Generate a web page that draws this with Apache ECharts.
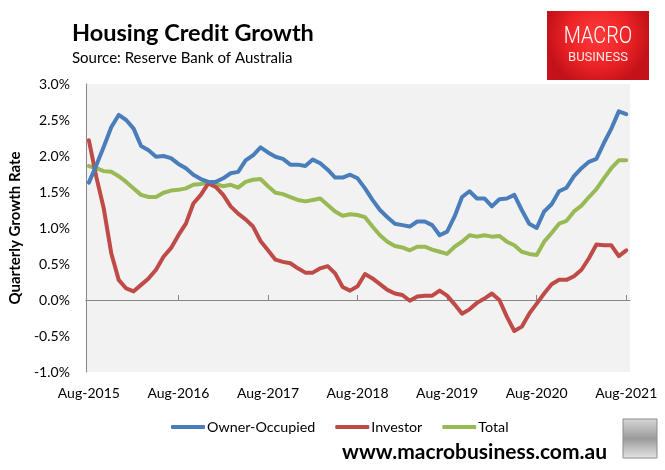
<!DOCTYPE html>
<html>
<head>
<meta charset="utf-8">
<script src="https://cdn.jsdelivr.net/npm/echarts@6/dist/echarts.min.js"></script>
<style>
html,body{margin:0;padding:0;background:#fff;}
#chart{width:665px;height:470px;}
</style>
</head>
<body>
<div id="chart"></div>
<script>
// Monthly observations Aug-2015 .. Aug-2021 (index 0..72)
var tickLabels = ['Aug-2015','Aug-2016','Aug-2017','Aug-2018','Aug-2019','Aug-2020','Aug-2021'];
var tickIndex = [0, 12, 24, 36, 48, 60, 72];

var ownerOccupied = [1.63,1.87,2.13,2.40,2.57,2.50,2.38,2.14,2.08,1.99,
  2.00,1.97,1.89,1.83,1.74,1.68,1.64,1.64,1.69,1.76,
  1.78,1.94,2.01,2.12,2.05,1.99,1.96,1.88,1.88,1.86,
  1.95,1.90,1.81,1.70,1.70,1.74,1.69,1.55,1.39,1.25,
  1.15,1.06,1.04,1.02,1.09,1.09,1.04,0.90,0.95,1.16,
  1.43,1.51,1.41,1.41,1.30,1.40,1.41,1.46,1.25,1.06,
  1.00,1.23,1.33,1.51,1.56,1.72,1.83,1.92,1.96,2.18,
  2.38,2.62,2.58];

var investor = [2.22,1.71,1.27,0.65,0.28,0.16,0.12,0.21,0.30,0.42,
  0.60,0.72,0.90,1.06,1.34,1.46,1.62,1.57,1.46,1.30,
  1.20,1.12,1.02,0.82,0.69,0.56,0.53,0.51,0.44,0.38,
  0.38,0.44,0.47,0.37,0.18,0.13,0.19,0.36,0.30,0.22,
  0.14,0.09,0.07,-0.01,0.05,0.06,0.06,0.13,0.06,-0.06,
  -0.19,-0.13,-0.04,0.02,0.09,0.00,-0.23,-0.43,-0.37,-0.19,
  -0.05,0.09,0.22,0.28,0.28,0.33,0.42,0.58,0.77,0.76,
  0.76,0.61,0.69];

var total = [1.86,1.83,1.79,1.78,1.72,1.64,1.55,1.46,1.43,1.43,
  1.49,1.52,1.53,1.55,1.60,1.61,1.63,1.61,1.58,1.60,
  1.56,1.64,1.67,1.68,1.58,1.49,1.47,1.43,1.39,1.37,
  1.39,1.41,1.32,1.23,1.17,1.19,1.18,1.15,1.02,0.90,
  0.81,0.75,0.73,0.69,0.74,0.74,0.70,0.67,0.64,0.74,
  0.81,0.90,0.88,0.90,0.88,0.89,0.81,0.76,0.67,0.64,
  0.625,0.81,0.93,1.06,1.10,1.23,1.31,1.43,1.54,1.69,
  1.83,1.94,1.94];

var seriesNames = ['Owner-Occupied','Investor','Total'];
var seriesColors = ['#4a7ebb','#be4b48','#98b954'];

var FONT = 'Lato, "Open Sans", sans-serif';

function pairs(arr){ return arr.map(function(v,i){ return [i, v]; }); }

var chart = echarts.init(document.getElementById('chart'), null, {renderer:'canvas'});

var xMin = -0.4, xMax = 72.5;

var option = {
  backgroundColor: '#ffffff',
  animation: false,
  textStyle: { fontFamily: FONT },
  grid: {
    left: 81, right: 35, top: 84, bottom: 98,
    show: true, backgroundColor: '#f2f2f2', borderWidth: 0
  },
  legend: {
    data: seriesNames,
    left: 166, top: 415,
    icon: 'roundRect',
    itemWidth: 34, itemHeight: 4, itemGap: 20,
    textStyle: { fontFamily: FONT, fontSize: 14.3, color: '#000', padding: [0,0,0,-3] }
  },
  xAxis: [{
    type: 'value', min: xMin, max: xMax,
    position: 'bottom',
    axisLine: { show: false, onZero: false },
    axisTick: { show: false },
    splitLine: { show: false },
    axisLabel: {
      customValues: tickIndex,
      margin: 14,
      fontFamily: FONT, fontSize: 14, color: '#000',
      formatter: function(v){ var j = tickIndex.indexOf(Math.round(v)); return j >= 0 ? tickLabels[j] : ''; }
    }
  },{
    type: 'value', min: xMin, max: xMax,
    position: 'bottom',
    axisLine: { show: true, onZero: true, lineStyle: { color: '#868686', width: 1 } },
    axisTick: { show: true, inside: true, length: 5, customValues: tickIndex.slice(1), lineStyle: { color: '#868686' } },
    axisLabel: { show: false },
    splitLine: { show: false }
  }],
  yAxis: {
    type: 'value', min: -1, max: 3, interval: 0.5,
    name: 'Quarterly Growth Rate',
    nameLocation: 'middle', nameGap: 51,
    nameTextStyle: { fontFamily: FONT, fontSize: 15, fontWeight: 'bold', color: '#000' },
    axisLine: { show: true, onZero: false, lineStyle: { color: '#868686', width: 1 } },
    axisTick: { show: false },
    splitLine: { show: false },
    axisLabel: {
      margin: 16, fontFamily: FONT, fontSize: 14, color: '#000',
      formatter: function(v){ return v.toFixed(1) + '%'; }
    }
  },
  series: [ownerOccupied, investor, total].map(function(arr, s){
    return {
      name: seriesNames[s], type: 'line', data: pairs(arr),
      xAxisIndex: 0,
      showSymbol: false, symbol: 'none',
      color: seriesColors[s],
      lineStyle: { width: 4, color: seriesColors[s], cap: 'round', join: 'round' },
      z: 3 - s
    };
  }),
  graphic: [
    { type: 'text', left: 72, top: 21, style: { text: 'Housing Credit Growth', fontFamily: FONT, fontSize: 23.5, fontWeight: 'bold', fill: '#000' } },
    { type: 'text', left: 72, top: 51, style: { text: 'Source: Reserve Bank of Australia', fontFamily: FONT, fontSize: 15, fill: '#000' } },
    { type: 'rect', shape: { x: 547, y: 11, width: 102, height: 69 },
      style: { fill: new echarts.graphic.RadialGradient(0.5, 0.35, 0.75, [
        { offset: 0, color: '#ff3a3a' }, { offset: 0.6, color: '#ec2326' }, { offset: 1, color: '#c4121a' }]) } },
    { type: 'text', x: 598, y: 37, scaleX: 0.86, originX: 0, originY: 0,
      style: { text: 'MACRO', fontFamily: 'Roboto, sans-serif', fontSize: 23, fontWeight: 300, fill: '#fff', align: 'center', verticalAlign: 'middle' } },
    { type: 'text', x: 598, y: 58,
      style: { text: 'BUSINESS', fontFamily: 'Roboto, sans-serif', fontSize: 13, fill: '#fde7e7', align: 'center', verticalAlign: 'middle' } },
    { type: 'text', x: 607, y: 452, style: { text: 'www.macrobusiness.com.au', fontFamily: FONT, fontSize: 21, fontWeight: 'bold', fill: '#000', align: 'right', verticalAlign: 'middle' } },
    { type: 'rect', shape: { x: 623, y: 419, width: 34, height: 39 },
      style: { fill: new echarts.graphic.LinearGradient(0, 0, 0, 1, [
        { offset: 0, color: '#d8d8d8' }, { offset: 0.5, color: '#9a9a9a' }, { offset: 1, color: '#e6e6e6' }]), stroke: '#8c8c8c', lineWidth: 1 } }
  ]
};

chart.setOption(option);
</script>
</body>
</html>
